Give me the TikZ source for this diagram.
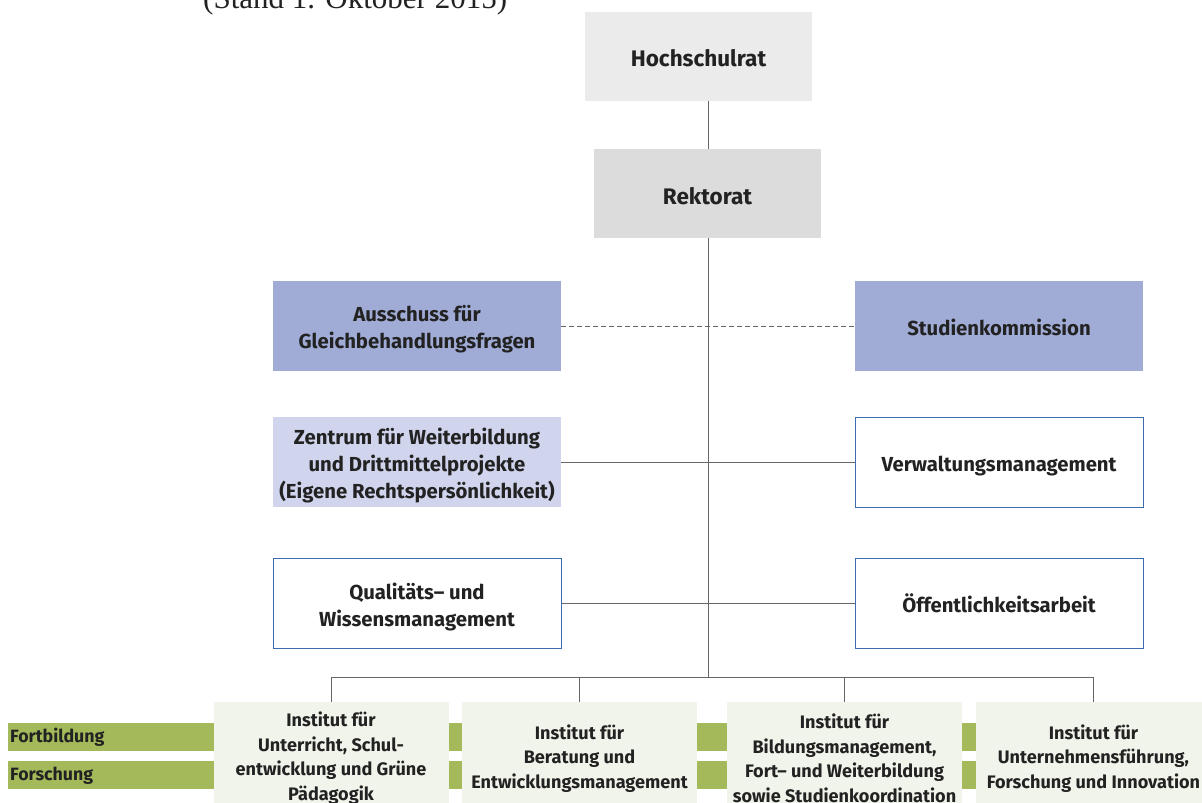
\documentclass[tikz,border=0pt]{standalone}
\usepackage{fontspec}
\setsansfont{Fira Sans}
\newfontfamily\topserif{Liberation Serif}
\newcommand\boxtopstrut{\rule{0pt}{25pt}}
\definecolor{txt}{HTML}{222222}
\definecolor{lin}{HTML}{666666}
\definecolor{hochfill}{HTML}{EBEBEB}
\definecolor{rekfill}{HTML}{DCDCDC}
\definecolor{lavdark}{HTML}{A0ACD6}
\definecolor{lavlight}{HTML}{D0D4EC}
\definecolor{bluebord}{HTML}{3D6BB0}
\definecolor{instfill}{HTML}{F1F4EA}
\definecolor{greenbar}{HTML}{A3B95A}
\begin{document}
\begin{tikzpicture}[x=1pt,y=-1pt,
  basebox/.style={inner sep=0pt, align=center, text=txt,
    font=\sffamily\bfseries\fontsize{20.3}{27}\selectfont,
    execute at end node={\rule[-7pt]{0pt}{7pt}}},
  topbox/.style={inner sep=0pt, align=center, text=txt,
    minimum width=227pt, minimum height=89pt,
    font=\sffamily\bfseries\fontsize{22.5}{27}\selectfont,
    execute at begin node={\rule{0pt}{27pt}},
    execute at end node={\rule[-6pt]{0pt}{6pt}}},
  sidebox/.style={basebox, minimum width=288pt, minimum height=90pt},
  outlinebox/.style={sidebox, fill=white, draw=bluebord, line width=1pt},
  instbox/.style={inner sep=0pt, align=center, text=txt, fill=instfill,
    minimum width=235pt, minimum height=112pt,
    font=\sffamily\bfseries\fontsize{18.1}{24.5}\selectfont},
  bar/.style={fill=greenbar, draw=none},
  barlabel/.style={inner sep=0pt, anchor=west, text=txt,
    font=\sffamily\bfseries\fontsize{17.8}{20}\selectfont},
  conn/.style={draw=lin, line width=1pt},
  dashconn/.style={conn, dash pattern=on 5pt off 3pt}
]
\useasboundingbox (0,0) rectangle (1202,803);
\fill[white] (0,0) rectangle (1202,803);

% cut-off title
\node[anchor=base west, inner sep=0pt, text=txt, font=\topserif\fontsize{31}{34}\selectfont] (title) at (203,9) {(Stand 1. Oktober 2015)};

% top boxes
\node[topbox, fill=hochfill] (hoch) at (698.5,56) {Hochschulrat};
\node[topbox, fill=rekfill] (rek) at (707.5,193.5) {Rektorat};

% side boxes
\node[sidebox, fill=lavdark] (aus) at (417,326) {\boxtopstrut Ausschuss für\\Gleichbehandlungsfragen};
\node[sidebox, fill=lavdark] (stud) at (999,326) {\boxtopstrut Studienkommission};
\node[sidebox, fill=lavlight] (zen) at (417,462) {\boxtopstrut Zentrum für Weiterbildung\\und Drittmittelprojekte\\(Eigene Rechtspersönlichkeit)};
\node[outlinebox] (verw) at (999,462) {\boxtopstrut Verwaltungsmanagement};
\node[outlinebox] (qual) at (417,603.5) {\boxtopstrut Qualitäts-- und\\Wissensmanagement};
\node[outlinebox] (oeff) at (999,603.5) {\boxtopstrut Öffentlichkeitsarbeit};

% green bars
\path[bar] (8,723) rectangle (976,751);
\path[bar] (8,761) rectangle (976,789);
\node[barlabel] (fort) at (10,737.5) {Fortbildung};
\node[barlabel] (forsch) at (10,775.5) {Forschung};

% institutes
\node[instbox, anchor=north] (i1) at (331,702) {Institut für\\Unterricht, Schul-\\entwicklung und Grüne\\Pädagogik};
\node[instbox, anchor=north] (i2) at (579.5,702) {Institut für\\Beratung und\\Entwicklungsmanagement};
\node[instbox, anchor=north] (i3) at (844.5,702) {Institut für\\Bildungsmanagement,\\Fort-- und Weiterbildung\\sowie Studienkoordination};
\node[instbox, anchor=north] (i4) at (1093.5,702) {Institut für\\Unternehmensführung,\\Forschung und Innovation};

% connectors
\coordinate (busmid) at (708,677);
\coordinate (busl) at (331,677);
\coordinate (busr) at (1093.5,677);
\draw[conn] (hoch.south -| 708,0) -- (rek.north -| 708,0);
\draw[conn] (rek.south -| 708,0) -- (busmid);
\draw[conn] (i1.north) -- (busl) -- (busr) -- (i4.north);
\draw[conn] (i2.north) -- (i2.north |- busmid);
\draw[conn] (i3.north) -- (i3.north |- busmid);
\draw[dashconn] (aus.east) -- (stud.west);
\draw[conn] (zen.east) -- (verw.west);
\draw[conn] (qual.east) -- (oeff.west);
\end{tikzpicture}
\end{document}
